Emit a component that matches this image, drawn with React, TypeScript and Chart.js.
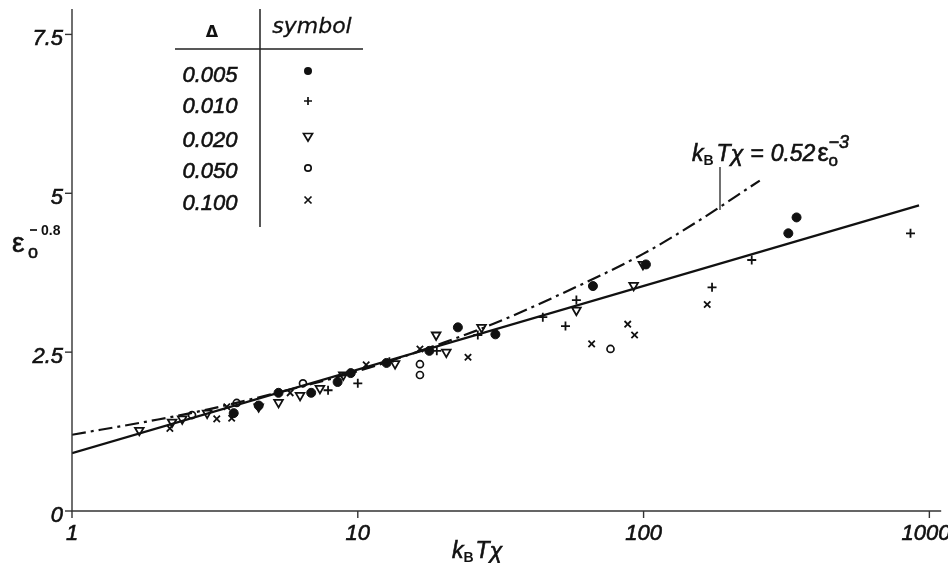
import React, { useEffect, useRef } from 'react';
import { Chart, registerables } from 'chart.js';

Chart.register(...registerables);

// ---- data ----
const xTicks = [1, 10, 100, 1000];
const xTickLabels = ['1', '10', '100', '1000'];
const yTicks = [0, 2.5, 5, 7.5];
const yTickLabels = ['0', '2.5', '5', '7.5'];
const deltaLabels = ['0.005', '0.010', '0.020', '0.050', '0.100'];

// Δ = 0.005 (filled circles)
const d005X = [3.68, 4.5, 5.28, 6.87, 8.5, 9.45, 12.6, 17.8, 22.4, 30.3, 66.5, 101.9, 321, 343];
const d005Y = [1.54, 1.66, 1.86, 1.86, 2.03, 2.17, 2.33, 2.52, 2.89, 2.78, 3.54, 3.88, 4.37, 4.62];
// Δ = 0.010 (plus)
const d010X = [7.87, 10, 12.9, 18.9, 26.3, 44.4, 53.3, 58.2, 173.6, 239, 859];
const d010Y = [1.9, 2.01, 2.35, 2.52, 2.77, 3.05, 2.91, 3.32, 3.52, 3.95, 4.37];
// Δ = 0.020 (down triangles)
const d020X = [1.72, 2.24, 2.43, 2.97, 4.5, 5.28, 6.28, 7.37, 8.9, 13.5, 18.8, 20.4, 27.1, 58.2, 92.3, 99.5];
const d020Y = [1.27, 1.4, 1.45, 1.54, 1.64, 1.71, 1.82, 1.93, 2.14, 2.32, 2.77, 2.5, 2.89, 3.16, 3.55, 3.88];
// Δ = 0.050 (open circles)
const d050X = [2.63, 3.77, 6.43, 16.5, 16.5, 76.6];
const d050Y = [1.51, 1.7, 2.01, 2.14, 2.31, 2.55];
// Δ = 0.100 (crosses)
const d100X = [2.2, 3.21, 3.48, 3.62, 5.8, 10.7, 16.5, 24.3, 65.8, 88, 93, 167];
const d100Y = [1.3, 1.45, 1.64, 1.46, 1.86, 2.3, 2.55, 2.42, 2.63, 2.94, 2.77, 3.25];

// solid fit line
const fitX = [1, 920];
const fitY = [0.91, 4.81];
// dash-dot curve  kBTχ = 0.52 ε^-3
const curveX = [1, 2, 3, 5, 10, 20, 30, 50, 100, 150, 255];
const curveY = [1.2, 1.44, 1.6, 1.84, 2.2, 2.65, 2.95, 3.39, 4.05, 4.52, 5.2];

const pts = (xs: number[], ys: number[]) => xs.map((v, i) => ({ x: v, y: ys[i] }));

const FONT = '"Liberation Sans", Arial, sans-serif';
const WIDE = '"DejaVu Sans", sans-serif';
const INK = '#111';

const decor = {
  id: 'decor',
  afterDraw(chart: any) {
    const { ctx, chartArea } = chart;
    const xs = chart.scales.x;
    const ys = chart.scales.y;
    const L = chartArea.left;
    const B = chartArea.bottom;
    const txt = (s: string, x: number, y: number, w = 0.6) => {
      ctx.fillText(s, x, y);
      if (w > 0) {
        const lw = ctx.lineWidth;
        const ss = ctx.strokeStyle;
        ctx.lineWidth = w;
        ctx.strokeStyle = INK;
        ctx.strokeText(s, x, y);
        ctx.lineWidth = lw;
        ctx.strokeStyle = ss;
      }
    };
    ctx.save();
    ctx.strokeStyle = '#333';
    ctx.fillStyle = INK;
    ctx.lineWidth = 1.4;
    // axes
    ctx.beginPath();
    ctx.moveTo(L, chartArea.top);
    ctx.lineTo(L, B);
    ctx.lineTo(chartArea.right, B);
    ctx.stroke();
    // y ticks
    ctx.font = `italic 22px ${FONT}`;
    ctx.textAlign = 'right';
    ctx.textBaseline = 'alphabetic';
    yTicks.forEach((v, i) => {
      const py = ys.getPixelForValue(v);
      ctx.beginPath();
      ctx.moveTo(L - 7, py);
      ctx.lineTo(L, py);
      ctx.stroke();
      txt(yTickLabels[i], L - 9, py + 11);
    });
    // x ticks
    ctx.textAlign = 'center';
    xTicks.forEach((v, i) => {
      const px = xs.getPixelForValue(v);
      ctx.beginPath();
      ctx.moveTo(px, B);
      ctx.lineTo(px, B + 7);
      ctx.stroke();
      const lx = i === xTicks.length - 1 ? Math.min(px, 948 - 22) : px;
      txt(xTickLabels[i], lx, 540);
    });

    // x title  kBTχ
    ctx.textAlign = 'left';
    let cx = 452;
    ctx.font = `italic 23px ${FONT}`;
    txt('k', cx, 558);
    cx += ctx.measureText('k').width;
    ctx.font = `bold 14px ${FONT}`;
    txt('B', cx, 562, 0);
    cx += ctx.measureText('B').width + 2;
    ctx.font = `italic 23px ${FONT}`;
    txt('Tχ', cx, 558);

    // y title  ε_o^{-0.8}
    ctx.font = `28px ${FONT}`;
    txt('ε', 12, 252);
    ctx.font = `18px ${FONT}`;
    txt('o', 28, 258);
    ctx.beginPath();
    ctx.lineWidth = 2;
    ctx.moveTo(30, 230);
    ctx.lineTo(37, 230);
    ctx.stroke();
    ctx.font = `bold 14px ${FONT}`;
    txt('0.8', 41, 235, 0);

    // legend table
    ctx.lineWidth = 1.5;
    ctx.strokeStyle = '#222';
    ctx.beginPath();
    ctx.moveTo(175, 49);
    ctx.lineTo(363, 49);
    ctx.moveTo(260, 9);
    ctx.lineTo(260, 227);
    ctx.stroke();
    ctx.textAlign = 'center';
    ctx.font = `bold 16px ${WIDE}`;
    txt('Δ', 212, 37, 0);
    ctx.font = `oblique 22px ${WIDE}`;
    txt('symbol', 312, 33, 0.3);
    const rowBase = [82, 113, 147, 178, 210];
    const symY = [71, 101, 137, 168, 200];
    ctx.font = `italic 22px ${FONT}`;
    deltaLabels.forEach((t, i) => {
      txt(t, 210, rowBase[i]);
    });
    const sx = 308;
    ctx.strokeStyle = INK;
    ctx.lineWidth = 1.7;
    // filled circle
    ctx.beginPath();
    ctx.arc(sx, symY[0], 4, 0, Math.PI * 2);
    ctx.fill();
    // plus
    ctx.beginPath();
    ctx.moveTo(sx - 4, symY[1]);
    ctx.lineTo(sx + 4, symY[1]);
    ctx.moveTo(sx, symY[1] - 4);
    ctx.lineTo(sx, symY[1] + 4);
    ctx.stroke();
    // down triangle
    ctx.beginPath();
    ctx.moveTo(sx - 4.5, symY[2] - 3.5);
    ctx.lineTo(sx + 4.5, symY[2] - 3.5);
    ctx.lineTo(sx, symY[2] + 4);
    ctx.closePath();
    ctx.stroke();
    // open circle
    ctx.beginPath();
    ctx.arc(sx, symY[3], 3.2, 0, Math.PI * 2);
    ctx.stroke();
    // x
    ctx.beginPath();
    ctx.moveTo(sx - 3.5, symY[4] - 3.5);
    ctx.lineTo(sx + 3.5, symY[4] + 3.5);
    ctx.moveTo(sx + 3.5, symY[4] - 3.5);
    ctx.lineTo(sx - 3.5, symY[4] + 3.5);
    ctx.stroke();

    // annotation kBTχ = 0.52 ε_o^{-3}
    ctx.textAlign = 'left';
    const ab = 161;
    let ax = 692;
    const put = (s: string, font: string, dy: number, gap: number, w = 0.6) => {
      ctx.font = font;
      txt(s, ax, ab + dy, w);
      ax += ctx.measureText(s).width + gap;
    };
    put('k', `italic 23px ${FONT}`, 0, 0);
    put('B', `bold 14px ${FONT}`, 4, 3, 0);
    put('Tχ', `italic 23px ${FONT}`, 0, 7);
    put('=', `italic 23px ${FONT}`, 0, 7);
    put('0.52', `italic 23px ${FONT}`, 0, 2);
    put('ε', `25px ${FONT}`, 0, 0);
    ctx.font = `17px ${FONT}`;
    txt('o', ax, ab + 5);
    ctx.font = `italic 18px ${FONT}`;
    txt('−3', ax, ab - 13);
    // leader line
    ctx.lineWidth = 1.2;
    ctx.beginPath();
    ctx.moveTo(720, 167);
    ctx.lineTo(720, 210);
    ctx.stroke();

    ctx.restore();
  },
};

export default function App() {
  const ref = useRef<HTMLCanvasElement | null>(null);
  useEffect(() => {
    if (!ref.current) return;
    const chart = new Chart(ref.current, {
      type: 'scatter',
      data: {
        datasets: [
          {
            label: 'fit',
            data: pts(fitX, fitY),
            showLine: true,
            borderColor: INK,
            borderWidth: 2.2,
            pointRadius: 0,
          },
          {
            label: 'curve',
            data: pts(curveX, curveY),
            showLine: true,
            borderColor: INK,
            borderWidth: 2.2,
            borderDash: [14, 5, 3, 5],
            pointRadius: 0,
            cubicInterpolationMode: 'monotone',
          },
          {
            label: '0.005',
            data: pts(d005X, d005Y),
            pointStyle: 'circle',
            pointRadius: 4.5,
            backgroundColor: INK,
            borderColor: INK,
            borderWidth: 1,
          },
          {
            label: '0.010',
            data: pts(d010X, d010Y),
            pointStyle: 'cross',
            pointRadius: 4.5,
            backgroundColor: INK,
            borderColor: INK,
            borderWidth: 1.8,
          },
          {
            label: '0.020',
            data: pts(d020X, d020Y),
            pointStyle: 'triangle',
            rotation: 180,
            pointRadius: 5,
            backgroundColor: '#fff',
            borderColor: INK,
            borderWidth: 1.8,
          },
          {
            label: '0.050',
            data: pts(d050X, d050Y),
            pointStyle: 'circle',
            pointRadius: 3.5,
            backgroundColor: '#fff',
            borderColor: INK,
            borderWidth: 1.7,
          },
          {
            label: '0.100',
            data: pts(d100X, d100Y),
            pointStyle: 'crossRot',
            pointRadius: 4.5,
            backgroundColor: INK,
            borderColor: INK,
            borderWidth: 1.8,
          },
        ] as any,
      },
      options: {
        animation: false,
        responsive: false,
        devicePixelRatio: 1,
        layout: { padding: { left: 72, right: 0, top: 9, bottom: 52 } },
        scales: {
          x: { type: 'logarithmic', min: 1, max: 1100, display: false },
          y: { type: 'linear', min: 0, max: 7.9, display: false },
        },
        plugins: { legend: { display: false }, tooltip: { enabled: false } },
      },
      plugins: [decor],
    } as any);
    return () => chart.destroy();
  }, []);
  return (
    <div style={{ position: 'absolute', left: 0, top: 0, width: 948, height: 563, background: '#fff' }}>
      <canvas ref={ref} width={948} height={563} />
    </div>
  );
}
